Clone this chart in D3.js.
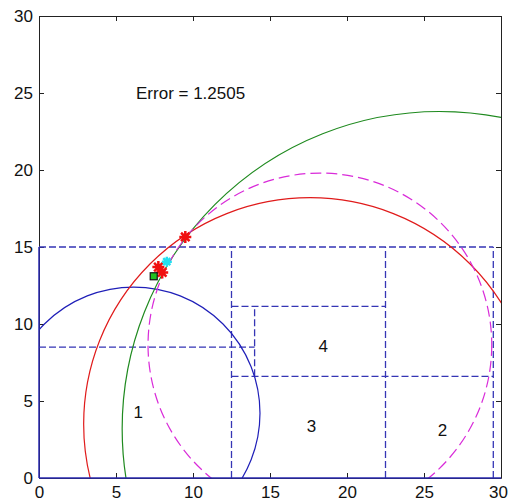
<!DOCTYPE html>
<html>
<head>
<meta charset="utf-8">
<script src="https://cdn.jsdelivr.net/npm/d3@7"></script>
<style>
  body { margin: 0; background: #fff; }
  text { font-family: "Liberation Sans", Arial, sans-serif; fill: #111; }
</style>
</head>
<body>
<div class="chart"></div>
<script>
// circles (center x, center y, radius)
var circleNames = ["blue", "red", "green", "magenta"];
var circleCx = [6.15, 17.6, 26.0, 18.24];
var circleCy = [4.2, 3.5, 3.2, 8.64];
var circleR = [8.2, 14.7, 20.6, 11.16];

// dashed partition lines
var segX1 = [0, 0, 12.5, 12.5, 14, 12.5, 22.5, 29.5];
var segY1 = [15, 8.5, 0, 11.15, 6.6, 6.6, 0, 0];
var segX2 = [29.5, 14, 12.5, 22.5, 14, 29.5, 22.5, 29.5];
var segY2 = [15, 8.5, 15, 11.15, 11.15, 6.6, 15, 15];

// solid edges of the region along the axes
var edgeX1 = [0, 0];
var edgeY1 = [0, 0];
var edgeX2 = [30, 0];
var edgeY2 = [0, 15];

// markers
var redStarX = [9.5, 7.75, 8.0];
var redStarY = [15.65, 13.7, 13.35];
var cyanStarX = [8.3];
var cyanStarY = [14.05];
var squareX = [7.45];
var squareY = [13.1];

// region labels
var regionLabels = ["1", "2", "3", "4"];
var regionX = [6.45, 26.2, 17.7, 18.45];
var regionY = [4.3, 3.1, 3.35, 8.6];

var errorText = "Error = 1.2505";
var errorX = 6.3, errorY = 25.0;

var ticks = [0, 5, 10, 15, 20, 25, 30];

var margin = {top: 16, right: 7, bottom: 24, left: 39},
  width = 462,
  height = 462;

var svg = d3.select(".chart")
  .append("svg")
    .attr("width", 508)
    .attr("height", 502)
  .append("g")
    .attr("transform", "translate(" + margin.left + "," + margin.top + ")");

var x = d3.scaleLinear().domain([0, 30]).range([0, width]);
var y = d3.scaleLinear().domain([0, 30]).range([height, 0]);

svg.append("clipPath").attr("id", "plotclip")
  .append("rect").attr("width", width).attr("height", height);

var colors = {blue: "#1f1fb8", red: "#e01b1b", green: "#1f8a1f", magenta: "#d92bd9"};

// axes, ticks pointing inward
function styleAxis(g) {
  g.select(".domain").attr("stroke", "#222");
  g.selectAll(".tick line").attr("stroke", "#222");
  g.selectAll(".tick text").attr("font-size", "17px").attr("fill", "#111")
    .style("font-family", "'Liberation Sans', Arial, sans-serif");
}
var xAxisG = svg.append("g").attr("transform", "translate(0," + height + ")")
  .call(d3.axisBottom(x).tickValues(ticks).tickSizeInner(-5).tickSizeOuter(0).tickPadding(8))
  .call(styleAxis);
// last label sits at the window edge, nudge it in
xAxisG.selectAll(".tick text").filter(function(d) { return d === 30; }).attr("dx", "-3");

svg.append("g")
  .call(d3.axisLeft(y).tickValues(ticks).tickSizeInner(-5).tickSizeOuter(0).tickPadding(6))
  .call(styleAxis);
svg.append("g")
  .call(d3.axisTop(x).tickValues(ticks).tickSizeInner(-5).tickSizeOuter(0).tickFormat(""))
  .call(styleAxis);
svg.append("g").attr("transform", "translate(" + width + ",0)")
  .call(d3.axisRight(y).tickValues(ticks).tickSizeInner(-5).tickSizeOuter(0).tickFormat(""))
  .call(styleAxis);

var plot = svg.append("g").attr("clip-path", "url(#plotclip)");

// dashed partition
plot.selectAll(".seg")
  .data(d3.range(segX1.length))
  .enter().append("line")
    .attr("class", "seg")
    .attr("x1", function(i) { return x(segX1[i]); })
    .attr("y1", function(i) { return y(segY1[i]); })
    .attr("x2", function(i) { return x(segX2[i]); })
    .attr("y2", function(i) { return y(segY2[i]); })
    .attr("stroke", "#3535b5")
    .attr("stroke-width", 1.3)
    .attr("stroke-dasharray", "7,3");

svg.selectAll(".edge")
  .data(d3.range(edgeX1.length))
  .enter().append("line")
    .attr("class", "edge")
    .attr("x1", function(i) { return x(edgeX1[i]); })
    .attr("y1", function(i) { return y(edgeY1[i]); })
    .attr("x2", function(i) { return x(edgeX2[i]); })
    .attr("y2", function(i) { return y(edgeY2[i]); })
    .attr("stroke", "#2a2ab0")
    .attr("stroke-width", 1.5);

// circles
plot.selectAll(".circ")
  .data(d3.range(circleNames.length))
  .enter().append("circle")
    .attr("class", "circ")
    .attr("cx", function(i) { return x(circleCx[i]); })
    .attr("cy", function(i) { return y(circleCy[i]); })
    .attr("r", function(i) { return x(circleR[i]) - x(0); })
    .attr("fill", "none")
    .attr("stroke", function(i) { return colors[circleNames[i]]; })
    .attr("stroke-width", 1.2)
    .attr("stroke-dasharray", function(i) { return circleNames[i] === "magenta" ? "11,5" : null; });

// asterisk marker
function asterisk(s) {
  var d = s * 0.7071;
  return "M" + (-s) + ",0L" + s + ",0M0," + (-s) + "L0," + s +
    "M" + (-d) + "," + (-d) + "L" + d + "," + d +
    "M" + (-d) + "," + d + "L" + d + "," + (-d);
}

plot.selectAll(".rstar")
  .data(d3.range(redStarX.length))
  .enter().append("path")
    .attr("class", "rstar")
    .attr("transform", function(i) { return "translate(" + x(redStarX[i]) + "," + y(redStarY[i]) + ")"; })
    .attr("d", asterisk(6))
    .attr("stroke", "#f01010")
    .attr("stroke-width", 2.5)
    .attr("fill", "none");

plot.selectAll(".cstar")
  .data(d3.range(cyanStarX.length))
  .enter().append("path")
    .attr("class", "cstar")
    .attr("transform", function(i) { return "translate(" + x(cyanStarX[i]) + "," + y(cyanStarY[i]) + ")"; })
    .attr("d", asterisk(5))
    .attr("stroke", "#22e0f0")
    .attr("stroke-width", 2.5)
    .attr("fill", "none");

plot.selectAll(".sq")
  .data(d3.range(squareX.length))
  .enter().append("rect")
    .attr("class", "sq")
    .attr("x", function(i) { return x(squareX[i]) - 3.5; })
    .attr("y", function(i) { return y(squareY[i]) - 3.5; })
    .attr("width", 7)
    .attr("height", 7)
    .attr("fill", "#20c020")
    .attr("stroke", "#111")
    .attr("stroke-width", 1.2);

// texts
svg.append("text")
  .attr("x", x(errorX))
  .attr("y", y(errorY))
  .attr("dy", "0.35em")
  .attr("font-size", "17px")
  .text(errorText);

svg.selectAll(".region")
  .data(d3.range(regionLabels.length))
  .enter().append("text")
    .attr("class", "region")
    .attr("x", function(i) { return x(regionX[i]); })
    .attr("y", function(i) { return y(regionY[i]); })
    .attr("dy", "0.35em")
    .attr("text-anchor", "middle")
    .attr("font-size", "17px")
    .text(function(i) { return regionLabels[i]; });
</script>
</body>
</html>
